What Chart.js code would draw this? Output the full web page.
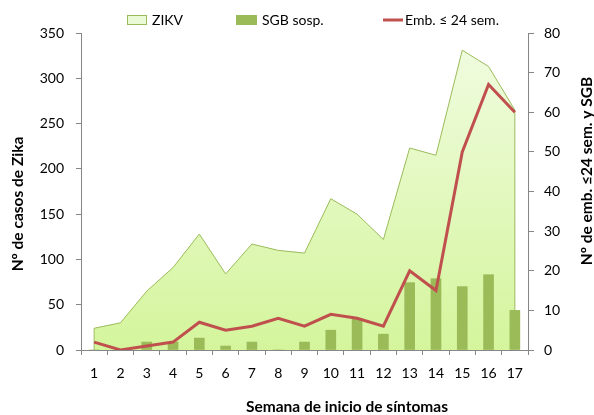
<!DOCTYPE html>
<html>
<head>
<meta charset="utf-8">
<script src="https://cdn.jsdelivr.net/npm/chart.js@4.4.1/dist/chart.umd.min.js"></script>
<style>
  html, body { margin: 0; padding: 0; background: #fff; }
  #wrap { width: 594px; height: 415px; }
</style>
</head>
<body>
<div id="wrap"><canvas id="chart" width="594" height="415"></canvas></div>
<script>
const weeks = ['1', '2', '3', '4', '5', '6', '7', '8', '9', '10', '11', '12', '13', '14', '15', '16', '17'];
const zikvCases = [24, 30, 65, 91, 128, 84, 117, 110, 107, 167, 150, 122, 223, 215, 331, 313, 265];
const sgbCases = [0, 0, 2, 2, 3, 1, 2, 0, 2, 5, 8, 4, 17, 18, 16, 19, 10];
const pregnantCases = [2, 0, 1, 2, 7, 5, 6, 8, 6, 9, 8, 6, 20, 15, 50, 67, 60];

const seriesLabels = ['ZIKV', 'SGB sosp.', 'Emb. \u2264 24 sem.'];
const xTitle = 'Semana de inicio de síntomas';
const leftTitle = 'Nº de casos de Zika';
const rightTitle = 'Nº de emb. \u226424 sem. y SGB';

const FONT = 'Lato, "Open Sans", sans-serif';
const AXIS_GREY = '#868686';
const GREEN = '#9bbb59';
const RED = '#c0504d';

const zikvFill = (context) => {
  const area = context.chart.chartArea;
  if (!area) return '#e4f8c4';
  const g = context.chart.ctx.createLinearGradient(0, area.top, 0, area.bottom);
  g.addColorStop(0, '#f1fce2');
  g.addColorStop(1, '#d4f59c');
  return g;
};

// closes the ZIKV area with its vertical sides, like the original
const areaEdges = {
  id: 'areaEdges',
  afterDatasetDraw(chart, args) {
    if (args.index !== 0) return;
    const pts = args.meta.data;
    const base = chart.scales.y.getPixelForValue(0);
    const c = chart.ctx;
    c.save();
    c.strokeStyle = GREEN;
    c.lineWidth = 1;
    c.beginPath();
    [pts[0], pts[pts.length - 1]].forEach((p) => {
      c.moveTo(p.x, p.y);
      c.lineTo(p.x, base);
    });
    c.stroke();
    c.restore();
  }
};

// legend and axis titles sit off-centre in the original, so they are drawn here
const legendAndTitles = {
  id: 'legendAndTitles',
  afterDraw(chart) {
    const c = chart.ctx;
    const ds = chart.data.datasets;
    c.save();

    c.font = `14px ${FONT}`;
    c.fillStyle = '#000';
    c.textAlign = 'left';
    c.textBaseline = 'middle';

    c.fillStyle = '#ebfad6';
    c.fillRect(127, 15, 20, 10);
    c.strokeStyle = GREEN;
    c.lineWidth = 1;
    c.strokeRect(127.5, 15.5, 19, 9);
    c.fillStyle = '#000';
    c.fillText(ds[0].label, 152, 20);

    c.fillStyle = GREEN;
    c.fillRect(236, 15, 21, 10);
    c.fillStyle = '#000';
    c.fillText(ds[1].label, 262, 20);

    c.strokeStyle = RED;
    c.lineWidth = 3;
    c.beginPath();
    c.moveTo(383, 20);
    c.lineTo(403, 20);
    c.stroke();
    c.fillText(ds[2].label, 405, 20);

    c.font = `bold 15.5px ${FONT}`;
    c.textAlign = 'center';
    c.fillText(xTitle, 347, 407);

    c.save();
    c.translate(18, 204);
    c.rotate(-Math.PI / 2);
    c.fillText(leftTitle, 0, 0);
    c.restore();

    c.translate(587, 171);
    c.rotate(-Math.PI / 2);
    c.fillText(rightTitle, 0, 0);
    c.restore();
  }
};

const ctx = document.getElementById('chart').getContext('2d');

const chart = new Chart(ctx, {
  type: 'bar',
  data: {
    labels: weeks,
    datasets: [
      {
        type: 'line',
        label: seriesLabels[0],
        data: zikvCases,
        yAxisID: 'y',
        fill: 'origin',
        backgroundColor: zikvFill,
        borderColor: GREEN,
        borderWidth: 1,
        pointRadius: 0,
        tension: 0,
        order: 3
      },
      {
        type: 'bar',
        label: seriesLabels[1],
        data: sgbCases,
        yAxisID: 'y1',
        backgroundColor: GREEN,
        barThickness: 10,
        order: 2
      },
      {
        type: 'line',
        label: seriesLabels[2],
        data: pregnantCases,
        yAxisID: 'y1',
        borderColor: RED,
        borderWidth: 3,
        pointRadius: 0,
        tension: 0,
        fill: false,
        order: 1
      }
    ]
  },
  options: {
    responsive: false,
    animation: false,
    devicePixelRatio: 1,
    layout: { padding: { top: 33, left: 0, right: 0, bottom: 0 } },
    plugins: {
      tooltip: { enabled: false },
      legend: { display: false }
    },
    scales: {
      x: {
        type: 'category',
        offset: true,
        grid: { display: true, drawOnChartArea: false, offset: true, tickLength: 5, color: AXIS_GREY },
        border: { color: AXIS_GREY },
        ticks: { color: '#000', font: { family: FONT, size: 14 }, padding: 10, maxRotation: 0, autoSkip: false },
        afterFit: (scale) => { scale.height = 65; }
      },
      y: {
        position: 'left',
        min: 0,
        max: 350,
        grid: { drawOnChartArea: false, tickLength: 5, color: AXIS_GREY },
        border: { color: AXIS_GREY },
        ticks: { stepSize: 50, color: '#000', font: { family: FONT, size: 14 }, padding: 12 },
        afterFit: (scale) => { scale.width = 81; scale.paddingTop = 0; scale.paddingBottom = 0; }
      },
      y1: {
        position: 'right',
        min: 0,
        max: 80,
        grid: { drawOnChartArea: false, tickLength: 6, color: AXIS_GREY },
        border: { color: AXIS_GREY },
        ticks: { stepSize: 10, color: '#000', font: { family: FONT, size: 14 }, padding: 10 },
        afterFit: (scale) => { scale.width = 66; scale.paddingTop = 0; scale.paddingBottom = 0; }
      }
    }
  },
  plugins: [areaEdges, legendAndTitles]
});
</script>
</body>
</html>
